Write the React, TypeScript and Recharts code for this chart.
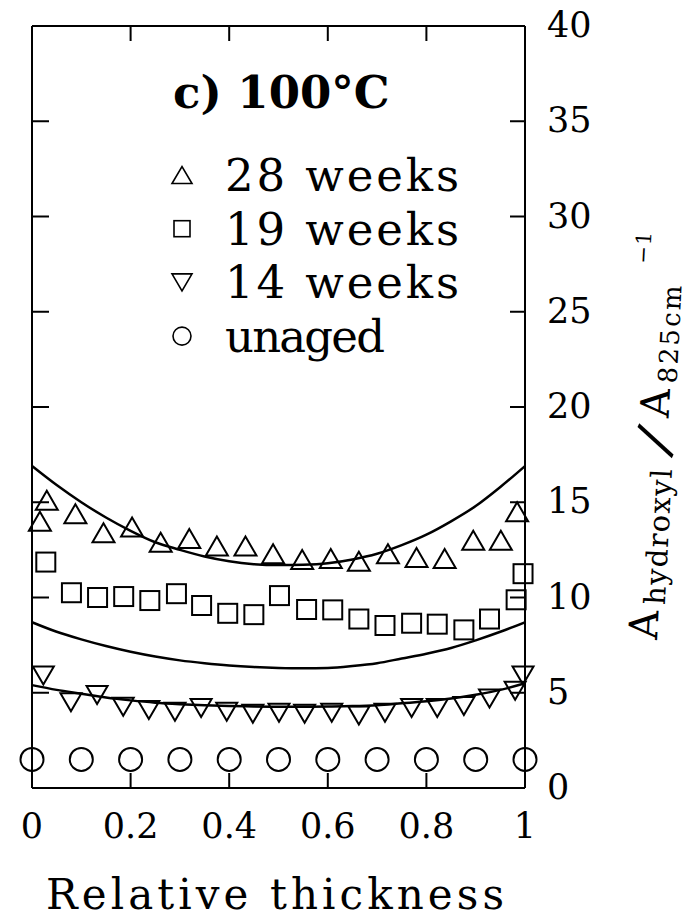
import React from 'react';
import { ComposedChart, Line, Scatter, XAxis, YAxis, Label, ReferenceLine } from 'recharts';

const FONT = '"DejaVu Serif", serif';

// 28 weeks (open up-triangles)
const weeks28X = [0.016, 0.03, 0.088, 0.145, 0.203, 0.261, 0.319, 0.375, 0.433, 0.489, 0.548, 0.606, 0.663, 0.722, 0.78, 0.837, 0.895, 0.951, 0.984];
const weeks28Y = [14.0, 15.1, 14.4, 13.4, 13.7, 12.9, 13.1, 12.7, 12.7, 12.3, 12.0, 12.05, 11.9, 12.3, 12.1, 12.05, 13.0, 13.0, 14.5];

// 19 weeks (open squares)
const weeks19X = [0.028, 0.08, 0.133, 0.186, 0.239, 0.293, 0.344, 0.397, 0.45, 0.502, 0.557, 0.61, 0.663, 0.716, 0.77, 0.822, 0.876, 0.928, 0.982, 0.996];
const weeks19Y = [11.86, 10.25, 10.0, 10.05, 9.84, 10.2, 9.58, 9.17, 9.1, 10.1, 9.37, 9.35, 8.87, 8.53, 8.65, 8.6, 8.3, 8.87, 9.88, 11.25];

// 14 weeks (open down-triangles)
const weeks14X = [0.023, 0.079, 0.132, 0.185, 0.237, 0.29, 0.343, 0.395, 0.448, 0.501, 0.553, 0.608, 0.663, 0.716, 0.77, 0.822, 0.876, 0.928, 0.98, 0.996];
const weeks14Y = [5.9, 4.5, 4.88, 4.26, 4.09, 4.0, 4.2, 4.0, 3.9, 3.95, 3.9, 3.95, 3.8, 3.95, 4.2, 4.2, 4.3, 4.7, 5.1, 5.9];

// unaged (open circles)
const unagedX = [0, 0.1, 0.2, 0.3, 0.4, 0.5, 0.6, 0.7, 0.8, 0.9, 1];
const unagedY = [1.5, 1.5, 1.5, 1.5, 1.5, 1.5, 1.5, 1.5, 1.5, 1.5, 1.5];

const curveX = [0, 0.05, 0.1, 0.15, 0.2, 0.25, 0.3, 0.35, 0.4, 0.45, 0.5, 0.55, 0.6, 0.65, 0.7, 0.75, 0.8, 0.85, 0.9, 0.95, 1];
const fitTopY = [16.9, 15.9, 15.0, 14.2, 13.5, 12.9, 12.5, 12.15, 11.9, 11.75, 11.7, 11.72, 11.8, 12.0, 12.3, 12.75, 13.3, 14.0, 14.8, 15.8, 16.9];
const fitMidY = [8.7, 8.2, 7.8, 7.45, 7.15, 6.9, 6.7, 6.55, 6.43, 6.35, 6.3, 6.28, 6.3, 6.4, 6.55, 6.8, 7.05, 7.35, 7.75, 8.2, 8.7];
const fitLowY = [5.4, 5.15, 4.95, 4.75, 4.6, 4.48, 4.4, 4.34, 4.3, 4.28, 4.27, 4.27, 4.28, 4.3, 4.35, 4.45, 4.55, 4.7, 4.9, 5.15, 5.5];

const xTicks = [0, 0.2, 0.4, 0.6, 0.8, 1];
const yTicks = [0, 5, 10, 15, 20, 25, 30, 35, 40];

const legendItems = ['28 weeks', '19 weeks', '14 weeks', 'unaged'];
const panelTitle = 'c) 100°C';

// plot box edges (from the chart margins below)
const PLOT_LEFT = 32;
const PLOT_TOP = 26;

const toPoints = (xs: number[], ys: number[]) => xs.map((x, i) => ({ x, y: ys[i] }));

const up = (cx: number, cy: number, w: number, h: number, sw = 2) => (
  <polygon points={`${cx - w / 2},${cy + h / 2} ${cx + w / 2},${cy + h / 2} ${cx},${cy - h / 2}`} fill="none" stroke="#000" strokeWidth={sw} />
);
const down = (cx: number, cy: number, w: number, h: number, sw = 2) => (
  <polygon points={`${cx - w / 2},${cy - h / 2} ${cx + w / 2},${cy - h / 2} ${cx},${cy + h / 2}`} fill="none" stroke="#000" strokeWidth={sw} />
);
const square = (cx: number, cy: number, s: number, sw = 2) => (
  <rect x={cx - s / 2} y={cy - s / 2} width={s} height={s} fill="none" stroke="#000" strokeWidth={sw} />
);
const circle = (cx: number, cy: number, r: number, sw = 2) => (
  <circle cx={cx} cy={cy} r={r} fill="none" stroke="#000" strokeWidth={sw} />
);

// bottom tick label + inward tick marks on bottom and top edges
const XTick = ({ x, y, payload }: any) => {
  const inner = payload.value > 0 && payload.value < 1;
  return (
    <g>
      {inner && <line x1={x} y1={y} x2={x} y2={y - 15} stroke="#000" strokeWidth={2} />}
      {inner && <line x1={x} y1={PLOT_TOP} x2={x} y2={PLOT_TOP + 15} stroke="#000" strokeWidth={2} />}
      <text x={x} y={y + 50} textAnchor="middle" fontFamily={FONT} fontSize={35} fill="#000">
        {String(payload.value)}
      </text>
    </g>
  );
};

// right tick label + inward tick marks on right and left edges
const YTick = ({ x, y, payload }: any) => {
  const inner = payload.value > 0 && payload.value < 40;
  return (
    <g>
      {inner && <line x1={x} y1={y} x2={x - 15} y2={y} stroke="#000" strokeWidth={2} />}
      {inner && <line x1={PLOT_LEFT} y1={y} x2={PLOT_LEFT + 17} y2={y} stroke="#000" strokeWidth={2} />}
      <text x={x + 22} y={y + 11} textAnchor="start" fontFamily={FONT} fontSize={35} fill="#000">
        {String(payload.value)}
      </text>
    </g>
  );
};

const XTitle = () => (
  <text x={46} y={909} fontFamily={FONT} fontSize={42} fill="#000" textLength={458} lengthAdjust="spacing">
    Relative thickness
  </text>
);

const YTitle = () => (
  <g transform="translate(657,640) rotate(-87)" fontFamily={FONT} fill="#000">
    <text x={0} y={0} fontSize={40}>A</text>
    <text x={35} y={6} fontSize={29} textLength={136} lengthAdjust="spacing">hydroxyl</text>
    <text transform="translate(199,-12) rotate(22)" fontSize={54} textAnchor="middle" dy="0.32em">/</text>
    <text x={222} y={0} fontSize={40}>A</text>
    <text x={257} y={6} fontSize={26} textLength={98} lengthAdjust="spacing">825cm</text>
    <text x={375} y={-27} fontSize={21} textLength={32} lengthAdjust="spacing">−1</text>
  </g>
);

const legendMarkers = [
  (cx: number, cy: number) => up(cx, cy, 20, 17, 1.6),
  (cx: number, cy: number) => square(cx, cy, 16, 1.6),
  (cx: number, cy: number) => down(cx, cy, 20, 17, 1.6),
  (cx: number, cy: number) => circle(cx, cy, 9, 1.6),
];

const LegendBlock = () => (
  <svg width={692} height={919} style={{ position: 'absolute', left: 0, top: 0, pointerEvents: 'none' }}>
    <text x={173} y={108} fontFamily={FONT} fontSize={45} fontWeight="bold" fill="#000">
      {panelTitle}
    </text>
    {legendItems.map((label, i) => {
      const base = 191 + i * 53.7;
      return (
        <g key={label}>
          {legendMarkers[i](182, base - 16)}
          <text x={225} y={base} fontFamily={FONT} fontSize={45} fill="#000" textLength={label.length === 8 ? 234 : 160} lengthAdjust="spacing">
            {label}
          </text>
        </g>
      );
    })}
  </svg>
);

export default function App() {
  const axisStroke = { stroke: '#000', strokeWidth: 2 };
  return (
    <div style={{ position: 'absolute', left: 0, top: 0, width: 692, height: 919, background: '#fff' }}>
      <ComposedChart width={692} height={919} margin={{ top: PLOT_TOP, right: 0, bottom: 0, left: PLOT_LEFT }}>
        <XAxis xAxisId="b" type="number" dataKey="x" domain={[0, 1]} ticks={xTicks} orientation="bottom" height={131}
          axisLine={axisStroke} tickLine={false} tickSize={0} tickMargin={0} tick={<XTick />} interval={0}>
          <Label content={<XTitle />} />
        </XAxis>
        <YAxis yAxisId="r" type="number" dataKey="y" domain={[0, 40]} ticks={yTicks} orientation="right" width={167}
          axisLine={axisStroke} tickLine={false} tickSize={0} tickMargin={0} tick={<YTick />} interval={0}>
          <Label content={<YTitle />} />
        </YAxis>

        {/* top and left edges of the frame */}
        <ReferenceLine xAxisId="b" yAxisId="r" y={40} stroke="#000" strokeWidth={2} />
        <ReferenceLine xAxisId="b" yAxisId="r" x={0} stroke="#000" strokeWidth={2} />

        <Line xAxisId="b" yAxisId="r" data={toPoints(curveX, fitTopY)} dataKey="y" type="monotone" stroke="#000" strokeWidth={2.5} dot={false} activeDot={false} isAnimationActive={false} />
        <Line xAxisId="b" yAxisId="r" data={toPoints(curveX, fitMidY)} dataKey="y" type="monotone" stroke="#000" strokeWidth={2.5} dot={false} activeDot={false} isAnimationActive={false} />
        <Line xAxisId="b" yAxisId="r" data={toPoints(curveX, fitLowY)} dataKey="y" type="monotone" stroke="#000" strokeWidth={2.5} dot={false} activeDot={false} isAnimationActive={false} />

        <Scatter xAxisId="b" yAxisId="r" name="28 weeks" data={toPoints(weeks28X, weeks28Y)} isAnimationActive={false}
          shape={(p: any) => up(p.cx, p.cy, 22, 19)} />
        <Scatter xAxisId="b" yAxisId="r" name="19 weeks" data={toPoints(weeks19X, weeks19Y)} isAnimationActive={false}
          shape={(p: any) => square(p.cx, p.cy, 19)} />
        <Scatter xAxisId="b" yAxisId="r" name="14 weeks" data={toPoints(weeks14X, weeks14Y)} isAnimationActive={false}
          shape={(p: any) => down(p.cx, p.cy, 21, 18)} />
        <Scatter xAxisId="b" yAxisId="r" name="unaged" data={toPoints(unagedX, unagedY)} isAnimationActive={false}
          shape={(p: any) => circle(p.cx, p.cy, 11.5)} />
      </ComposedChart>
      <LegendBlock />
    </div>
  );
}
